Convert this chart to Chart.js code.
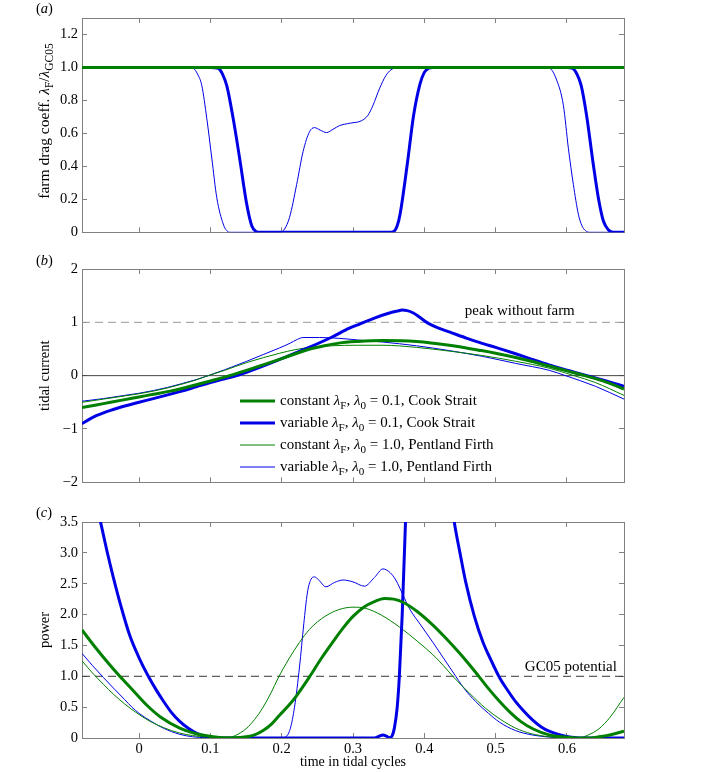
<!DOCTYPE html>
<html>
<head>
<meta charset="utf-8">
<script src="https://cdn.jsdelivr.net/npm/chart.js@4.4.1/dist/chart.umd.min.js"></script>
<style>
  body { margin: 0; background: #fff; }
  #wrap { position: relative; width: 722px; height: 772px; }
  canvas { position: absolute; left: 0; }
</style>
</head>
<body>
<div id="wrap">
  <canvas id="dragChart" width="722" height="250" style="top:0px"></canvas>
  <canvas id="currentChart" width="722" height="250" style="top:250px"></canvas>
  <canvas id="powerChart" width="722" height="272" style="top:500px"></canvas>
</div>
<script>
// time axis (tidal cycles)
var X_MIN = -0.08, X_MAX = 0.68;

// (a) farm drag coefficient lambda_F / lambda_GC05
var dragConstX = [-0.08, 0.68];
var dragConstCook = [1, 1];
var dragConstPent = [1, 1];
var dragVarCookX = [-0.08, 0.1, 0.111, 0.117, 0.123, 0.132, 0.141, 0.151, 0.158, 0.164, 0.17,
    0.35, 0.357, 0.362, 0.366, 0.376, 0.385, 0.394, 0.4, 0.406, 0.412,
    0.6, 0.608, 0.614, 0.62, 0.6275, 0.637, 0.644, 0.651, 0.658, 0.665, 0.68];
var dragVarCook = [1, 1, 0.995, 0.96, 0.89, 0.69, 0.45, 0.17, 0.04, 0.005, 0,
    0, 0.005, 0.04, 0.11, 0.41, 0.71, 0.9, 0.97, 0.995, 1,
    1, 0.995, 0.96, 0.89, 0.71, 0.41, 0.21, 0.07, 0.015, 0, 0];
var dragVarPentX = [-0.08, 0.07, 0.076, 0.082, 0.088, 0.095, 0.102, 0.109, 0.118, 0.123, 0.128,
    0.198, 0.204, 0.211, 0.221, 0.23, 0.239, 0.246, 0.254, 0.263, 0.272, 0.281, 0.296, 0.312,
    0.321, 0.328, 0.337, 0.346, 0.353, 0.36, 0.366,
    0.57, 0.576, 0.585, 0.595, 0.602, 0.609, 0.616, 0.621, 0.626, 0.632, 0.68];
var dragVarPent = [1, 1, 0.995, 0.96, 0.89, 0.69, 0.45, 0.21, 0.05, 0.01, 0,
    0, 0.02, 0.09, 0.29, 0.49, 0.61, 0.635, 0.62, 0.605, 0.625, 0.647, 0.662, 0.677,
    0.71, 0.77, 0.87, 0.95, 0.985, 0.998, 1,
    1, 0.995, 0.93, 0.77, 0.51, 0.29, 0.11, 0.04, 0.01, 0, 0];

// (b) tidal current
var currentConstCookX = [-0.08, -0.06, -0.04, -0.02, 0, 0.02, 0.04, 0.06, 0.08, 0.1,
    0.127, 0.16, 0.2, 0.235, 0.26, 0.28, 0.306, 0.342, 0.389, 0.435,
    0.48, 0.5, 0.528, 0.55, 0.575, 0.6, 0.625, 0.655, 0.68];
var currentConstCook = [-0.6, -0.55, -0.5, -0.45, -0.4, -0.35, -0.3, -0.24, -0.17, -0.1,
    0, 0.14, 0.32, 0.48, 0.56, 0.61, 0.64, 0.66, 0.64, 0.57,
    0.47, 0.42, 0.34, 0.27, 0.18, 0.09, 0, -0.12, -0.25];
var currentVarCookX = [-0.08, -0.07, -0.06, -0.04, -0.02, 0, 0.02, 0.04, 0.06, 0.08,
    0.1, 0.12, 0.137, 0.16, 0.2, 0.235, 0.27, 0.295, 0.31, 0.33,
    0.35, 0.362, 0.369, 0.376, 0.384, 0.392, 0.4, 0.407, 0.42, 0.435,
    0.46, 0.48, 0.5, 0.528, 0.55, 0.575, 0.6, 0.628, 0.655, 0.68];
var currentVarCook = [-0.9, -0.82, -0.75, -0.65, -0.57, -0.5, -0.43, -0.36, -0.29, -0.21,
    -0.13, -0.06, 0, 0.11, 0.32, 0.51, 0.72, 0.89, 0.97, 1.08,
    1.17, 1.21, 1.23, 1.22, 1.18, 1.11, 1.03, 0.97, 0.89, 0.82,
    0.7, 0.61, 0.53, 0.41, 0.31, 0.2, 0.1, 0, -0.1, -0.2];
var currentConstPentX = [-0.08, -0.05, -0.02, 0, 0.02, 0.04, 0.06, 0.08, 0.097, 0.12,
    0.15, 0.175, 0.197, 0.22, 0.24, 0.27, 0.306, 0.342, 0.389, 0.435,
    0.48, 0.528, 0.575, 0.61, 0.64, 0.68];
var currentConstPent = [-0.5, -0.44, -0.38, -0.34, -0.29, -0.23, -0.16, -0.08, 0, 0.1,
    0.24, 0.34, 0.42, 0.49, 0.53, 0.56, 0.57, 0.57, 0.53, 0.46,
    0.38, 0.27, 0.14, 0, -0.13, -0.37];
var currentVarPentX = [-0.08, -0.05, -0.02, 0, 0.02, 0.04, 0.06, 0.08, 0.097, 0.12,
    0.151, 0.175, 0.197, 0.212, 0.222, 0.23, 0.253, 0.28, 0.306, 0.342,
    0.389, 0.435, 0.482, 0.528, 0.575, 0.598, 0.64, 0.68];
var currentVarPent = [-0.48, -0.43, -0.37, -0.33, -0.28, -0.22, -0.15, -0.075, 0, 0.11,
    0.27, 0.4, 0.52, 0.61, 0.68, 0.715, 0.715, 0.7, 0.67, 0.63,
    0.56, 0.47, 0.36, 0.23, 0.1, 0, -0.2, -0.44];
var peakWithoutFarm = 1;

// (c) power
var powerConstCookX = [-0.08, -0.06, -0.04, -0.027, -0.01, 0.011, 0.03, 0.057, 0.08, 0.104,
    0.12, 0.135, 0.15, 0.162, 0.174, 0.186, 0.197, 0.21, 0.2205, 0.239,
    0.255, 0.272, 0.286, 0.3, 0.315, 0.33, 0.344, 0.357, 0.37, 0.39,
    0.412, 0.43, 0.449, 0.463, 0.477, 0.49, 0.505, 0.52, 0.535, 0.552,
    0.575, 0.598, 0.615, 0.63, 0.645, 0.66, 0.68];
var powerConstCook = [1.75, 1.45, 1.17, 1.0, 0.79, 0.53, 0.34, 0.16, 0.07, 0.02,
    0.005, 0.005, 0.02, 0.05, 0.12, 0.23, 0.37, 0.53, 0.68, 0.99,
    1.28, 1.56, 1.78, 1.97, 2.12, 2.21, 2.26, 2.25, 2.2, 2.05,
    1.83, 1.62, 1.38, 1.19, 0.99, 0.8, 0.6, 0.42, 0.27, 0.15,
    0.05, 0.015, 0, 0, 0.02, 0.05, 0.11];
var powerVarCookX = [-0.08, -0.066, -0.054, -0.045, -0.036, -0.025, -0.013, 0, 0.013, 0.024,
    0.034, 0.045, 0.057, 0.07, 0.081, 0.092, 0.104, 0.115, 0.33, 0.337,
    0.342, 0.347, 0.351, 0.355, 0.358, 0.362, 0.365, 0.369, 0.373, 0.378,
    0.39, 0.42, 0.442, 0.45, 0.458, 0.47, 0.482, 0.494, 0.505, 0.517,
    0.528, 0.54, 0.552, 0.564, 0.575, 0.587, 0.598, 0.61, 0.622, 0.68];
var powerVarCook = [4.95, 4.15, 3.5, 3.03, 2.6, 2.12, 1.66, 1.3, 1.0, 0.78,
    0.6, 0.42, 0.27, 0.15, 0.075, 0.03, 0.007, 0, 0, 0.03,
    0.05, 0.03, 0.005, 0.04, 0.16, 0.5, 1.0, 2.0, 3.3, 4.8,
    6.0, 5.4, 3.5, 3.0, 2.53, 1.98, 1.56, 1.25, 0.99, 0.77,
    0.59, 0.43, 0.29, 0.18, 0.11, 0.06, 0.03, 0.01, 0, 0];
var powerConstPentX = [-0.08, -0.065, -0.05, -0.036, -0.02, 0, 0.017, 0.034, 0.057, 0.075,
    0.094, 0.11, 0.123, 0.135, 0.15, 0.162, 0.174, 0.185, 0.195, 0.21,
    0.225, 0.239, 0.25, 0.262, 0.28, 0.3, 0.318, 0.34, 0.365, 0.39,
    0.412, 0.427, 0.44, 0.463, 0.486, 0.507, 0.528, 0.55, 0.575, 0.6,
    0.617, 0.63, 0.645, 0.66, 0.68];
var powerConstPent = [1.25, 1.05, 0.87, 0.71, 0.55, 0.38, 0.26, 0.17, 0.08, 0.04,
    0.012, 0.002, 0, 0.04, 0.15, 0.3, 0.5, 0.73, 0.97, 1.28,
    1.55, 1.76, 1.88, 1.98, 2.08, 2.12, 2.1, 1.99, 1.8, 1.57,
    1.35, 1.17, 1.0, 0.73, 0.48, 0.3, 0.16, 0.07, 0.02, 0.003,
    0, 0.05, 0.15, 0.33, 0.66];
var powerVarPentX = [-0.08, -0.065, -0.05, -0.036, -0.02, -0.01, 0, 0.017, 0.034, 0.057,
    0.075, 0.094, 0.11, 0.2, 0.206, 0.212, 0.218, 0.225, 0.231, 0.236,
    0.241, 0.246, 0.252, 0.262, 0.274, 0.286, 0.3, 0.316, 0.33, 0.342,
    0.352, 0.36, 0.37, 0.379, 0.395, 0.412, 0.426, 0.44, 0.456, 0.472,
    0.49, 0.505, 0.528, 0.551, 0.575, 0.598, 0.68];
var powerVarPent = [1.37, 1.17, 0.98, 0.81, 0.62, 0.5, 0.4, 0.27, 0.16, 0.06,
    0.02, 0.004, 0, 0, 0.02, 0.15, 0.5, 1.15, 1.85, 2.35,
    2.57, 2.61, 2.56, 2.45, 2.52, 2.56, 2.53, 2.46, 2.6, 2.74,
    2.68, 2.56, 2.32, 2.1, 1.83, 1.55, 1.31, 1.07, 0.8, 0.59,
    0.4, 0.26, 0.12, 0.05, 0.015, 0, 0];
var gc05Potential = 1;

// legend texts: [text, 'i' italic | 's' subscript]
var legendLabels = [
    [['constant '], ['λ', 'i'], ['F', 's'], [', '], ['λ', 'i'], ['0', 's'], [' = 0.1, Cook Strait']],
    [['variable '], ['λ', 'i'], ['F', 's'], [', '], ['λ', 'i'], ['0', 's'], [' = 0.1, Cook Strait']],
    [['constant '], ['λ', 'i'], ['F', 's'], [', '], ['λ', 'i'], ['0', 's'], [' = 1.0, Pentland Firth']],
    [['variable '], ['λ', 'i'], ['F', 's'], [', '], ['λ', 'i'], ['0', 's'], [' = 1.0, Pentland Firth']]
];
var dragTitle = [['farm drag coeff. '], ['λ', 'i'], ['F', 's'], ['/'], ['λ', 'i'], ['GC05', 's']];

var FONT = '"Liberation Serif", "Times New Roman", serif';
var GREY = '#808080';
var GREEN = '#008000';
var BLUE = '#0000e6';

function pts(xs, ys) {
    return xs.map(function(x, i) { return { x: x, y: ys[i] }; });
}

function curve(data, color, width) {
    return {
        data: data, borderColor: color, borderWidth: width,
        pointRadius: 0, fill: false, cubicInterpolationMode: 'monotone'
    };
}

function hline(value, color, dash) {
    return {
        data: pts([X_MIN, X_MAX], [value, value]), borderColor: color, borderWidth: 1,
        borderDash: dash, pointRadius: 0, fill: false, tension: 0
    };
}

function decimal(v) { return v === 0 ? '0' : v.toFixed(1); }
function integer(v) { return v < 0 ? '\u2212' + Math.abs(v) : String(v); }

function drawRich(ctx, parts, x, y, size, align) {
    function fontFor(k) {
        return (k === 'i' ? 'italic ' : '') + (k === 's' ? size * 0.74 : size) + 'px ' + FONT;
    }
    var total = 0;
    parts.forEach(function(p) { ctx.font = fontFor(p[1]); total += ctx.measureText(p[0]).width; });
    var cx = align === 'center' ? x - total / 2 : (align === 'right' ? x - total : x);
    ctx.textAlign = 'left';
    ctx.textBaseline = 'middle';
    parts.forEach(function(p) {
        ctx.font = fontFor(p[1]);
        ctx.fillText(p[0], cx, y + (p[1] === 's' ? size * 0.32 : 0));
        cx += ctx.measureText(p[0]).width;
    });
}

var decor = {
    id: 'decor',
    afterDraw: function(chart, args, opts) {
        var ctx = chart.ctx, area = chart.chartArea;
        ctx.save();
        ctx.fillStyle = '#000';
        drawRich(ctx, [['('], [opts.letter, 'i'], [')']], 36, opts.letterY, 14.5, 'left');
        if (opts.richTitle) {
            ctx.save();
            ctx.translate(45, 121);
            ctx.rotate(-Math.PI / 2);
            drawRich(ctx, opts.richTitle, 0, 0, 15.5, 'center');
            ctx.restore();
        }
        (opts.notes || []).forEach(function(n) {
            ctx.font = '15px ' + FONT;
            ctx.textAlign = 'right';
            ctx.textBaseline = 'alphabetic';
            ctx.fillText(n.text, chart.scales.x.getPixelForValue(n.x),
                chart.scales.y.getPixelForValue(n.y) + n.dy);
        });
        if (opts.legend) {
            opts.legend.forEach(function(parts, i) {
                var ds = chart.data.datasets[i];
                var y = area.top + 132 + i * 22;
                ctx.strokeStyle = ds.borderColor;
                ctx.lineWidth = ds.borderWidth;
                ctx.beginPath();
                ctx.moveTo(240, y);
                ctx.lineTo(275, y);
                ctx.stroke();
                drawRich(ctx, parts, 280, y, 15, 'left');
            });
        }
        ctx.restore();
    }
};

function buildScales(yMin, yMax, yStep, yFmt, yTitle, withX) {
    var marks = { drawOnChartArea: false, drawTicks: true, tickLength: -5, tickColor: GREY, color: GREY };
    var frame = { display: true, color: GREY, width: 1 };
    var font = { family: FONT, size: 14.5 };
    return {
        x: {
            type: 'linear', position: 'bottom', min: X_MIN, max: X_MAX,
            grid: marks, border: frame,
            ticks: { display: withX, stepSize: 0.1, includeBounds: false, padding: 7, color: '#000',
                     font: font, maxRotation: 0, autoSkip: false, callback: decimal },
            title: { display: withX, text: 'time in tidal cycles', color: '#000', font: { family: FONT, size: 14 },
                     padding: { top: 0, bottom: 1 } },
            afterFit: function(s) { s.height = withX ? 34 : 0; }
        },
        xTop: {
            type: 'linear', position: 'top', min: X_MIN, max: X_MAX,
            grid: marks, border: frame,
            ticks: { display: false, stepSize: 0.1, includeBounds: false },
            afterFit: function(s) { s.height = 0; }
        },
        y: {
            type: 'linear', position: 'left', min: yMin, max: yMax,
            grid: marks, border: frame,
            ticks: { stepSize: yStep, includeBounds: false, padding: 9, color: '#000', font: font,
                     autoSkip: false, callback: yFmt },
            title: { display: !!yTitle, text: yTitle || '', color: '#000', font: { family: FONT, size: 14.5 },
                     padding: { top: 36, bottom: 0 } },
            afterFit: function(s) { s.width = 82; }
        },
        yRight: {
            type: 'linear', position: 'right', min: yMin, max: yMax,
            grid: marks, border: frame,
            ticks: { display: false, stepSize: yStep, includeBounds: false },
            afterFit: function(s) { s.width = 0; }
        }
    };
}

function makeChart(id, datasets, scales, padTop, padBottom, decorOpts) {
    return new Chart(document.getElementById(id).getContext('2d'), {
        type: 'line',
        data: { datasets: datasets },
        options: {
            responsive: false, animation: false, events: [],
            layout: { padding: { top: padTop, bottom: padBottom, left: 0, right: 98 } },
            scales: scales,
            plugins: { legend: { display: false }, tooltip: { enabled: false }, decor: decorOpts }
        },
        plugins: [decor]
    });
}

// (a)
makeChart('dragChart', [
    curve(pts(dragConstX, dragConstCook), GREEN, 3),
    curve(pts(dragVarCookX, dragVarCook), BLUE, 3),
    curve(pts(dragConstX, dragConstPent), GREEN, 1),
    curve(pts(dragVarPentX, dragVarPent), BLUE, 1)
], buildScales(0, 1.3, 0.2, decimal, null, false), 18, 15,
    { letter: 'a', letterY: 9, richTitle: dragTitle });

// (b)
makeChart('currentChart', [
    curve(pts(currentConstCookX, currentConstCook), GREEN, 3),
    curve(pts(currentVarCookX, currentVarCook), BLUE, 3),
    curve(pts(currentConstPentX, currentConstPent), GREEN, 1),
    curve(pts(currentVarPentX, currentVarPent), BLUE, 1),
    hline(peakWithoutFarm, '#999999', [8, 5]),
    hline(0, '#444444', [])
], buildScales(-2, 2, 1, integer, 'tidal current', false), 19, 14,
    { letter: 'b', letterY: 11, legend: legendLabels,
      notes: [{ text: 'peak without farm', x: 0.611, y: peakWithoutFarm, dy: -7 }] });

// (c)
makeChart('powerChart', [
    curve(pts(powerConstCookX, powerConstCook), GREEN, 3),
    curve(pts(powerVarCookX, powerVarCook), BLUE, 3),
    curve(pts(powerConstPentX, powerConstPent), GREEN, 1),
    curve(pts(powerVarPentX, powerVarPent), BLUE, 1),
    hline(gc05Potential, '#333333', [8, 5])
], buildScales(0, 3.5, 0.5, decimal, 'power', true), 22, 0,
    { letter: 'c', letterY: 13,
      notes: [{ text: 'GC05 potential', x: 0.67, y: gc05Potential, dy: -5 }] });
</script>
</body>
</html>
